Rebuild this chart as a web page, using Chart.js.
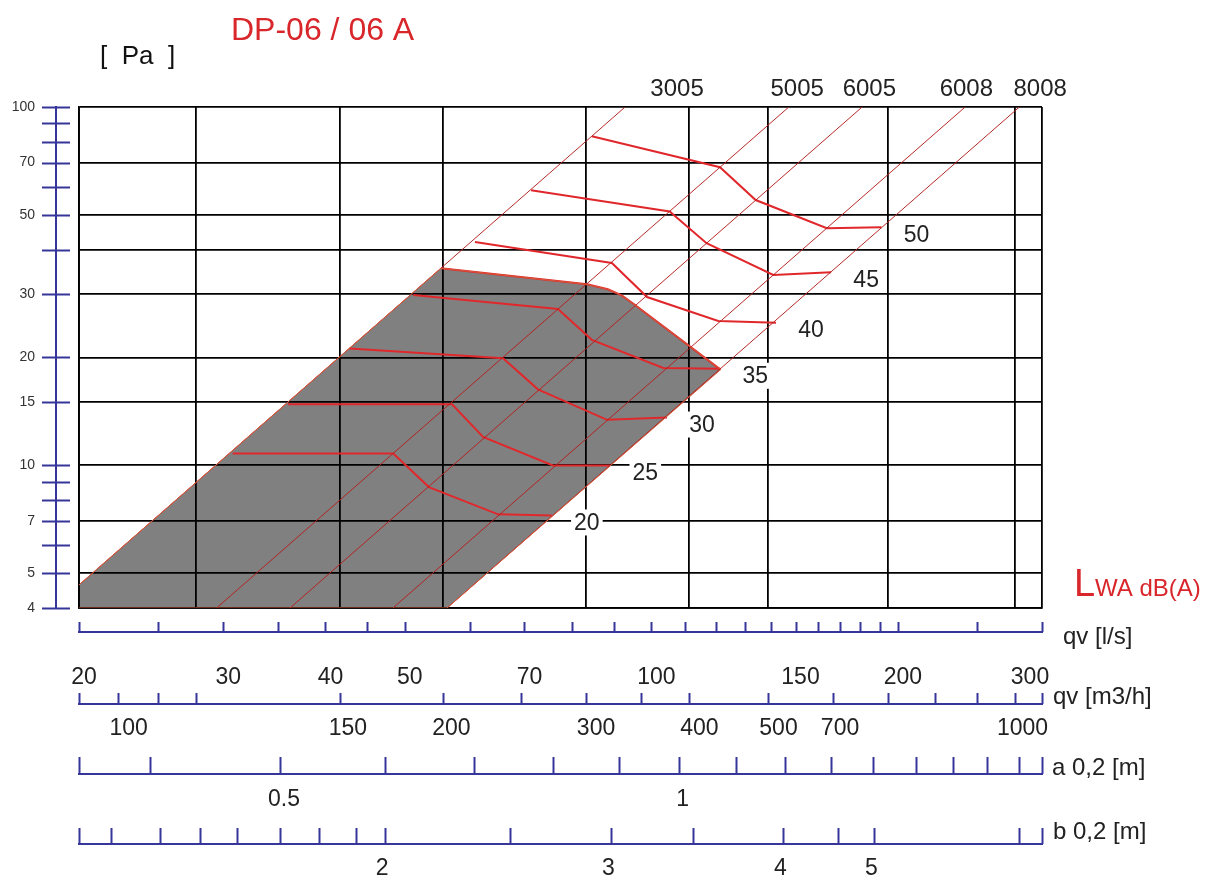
<!DOCTYPE html>
<html>
<head>
<meta charset="utf-8">
<title>DP-06 / 06 A</title>
<script src="https://cdn.jsdelivr.net/npm/chart.js@4.4.1/dist/chart.umd.min.js"></script>
<style>
  html, body { margin: 0; padding: 0; background: #fff; }
  #wrap { width: 1223px; height: 884px; }
</style>
</head>
<body>
<div id="wrap"><canvas id="chart" width="1223" height="884"></canvas></div>
<script>
// grid of the diagram: qv [m3/h] on x, pressure drop [Pa] on y
const gridQv = [20, 27.8, 41.7, 55.6, 83.3, 111.1, 138.9, 194.4, 277.8, 300];
const gridPa = [4, 5, 7, 10, 15, 20, 30, 40, 50, 70, 100];
const paLabels = [100, 70, 50, 30, 20, 15, 10, 7, 5, 4];
const paTicks = [100, 90, 80, 70, 60, 50, 40, 30, 20, 15, 10, 9, 8, 7, 6, 5, 4];

// scale bars under the chart (tick places read on the qv axis)
const lsTicks = [20, 25, 30, 35, 40, 45, 50, 60, 70, 80, 90, 100, 110, 120, 130, 140, 150, 160, 170, 180, 190, 200, 250, 300];
const m3hTicks = [20, 22.3, 25, 27.8, 41.7, 55.6, 69.4, 83.3, 97.2, 111.1, 138.9, 166.7, 194.4, 222.2, 250, 277.8, 300];
const m3hLabels = [20, 30, 40, 50, 70, 100, 150, 200, 300];
const aTopLabels = ['100', '150', '200', '300', '400', '500', '700', '1000'];
const aTopAt = [23, 42.6, 57, 85.6, 114.5, 143, 170, 284];
const aTicks = [20, 24.4, 35.2, 47.3, 60.8, 75.8, 91.3, 108, 126.9, 145.8, 165.6, 186.7, 210.4, 233.6, 257, 281.4, 300];
const aLabels = ['0.5', '1'];
const aLabelAt = [35.2, 108];
const bTicks = [20, 21.9, 25.1, 28.1, 31.2, 35.2, 39.3, 43.6, 47.3, 67.2, 89.4, 112.5, 145, 168.8, 187.3, 281.4, 300];
const bLabels = ['2', '3', '4', '5'];
const bLabelAt = [47.3, 89.4, 145, 187.3];

// damper lines (dp ~ qv^2), one per size
const diagNames = ['3005', '5005', '6005', '6008', '8008'];
const diagNameAt = [107.5, 150.7, 184.6, 242.5, 298.5];
const diagLow = [{x: 20, y: 4.64}, {x: 29.45, y: 4}, {x: 36.2, y: 4}, {x: 48.35, y: 4}, {x: 56.3, y: 4}];
const diagHigh = [{x: 92.9, y: 100}, {x: 147.2, y: 100}, {x: 180.9, y: 100}, {x: 241.7, y: 100}, {x: 281.5, y: 100}];

// sound power contours LWA dB(A)
const lwaLevels = [20, 25, 30, 35, 40, 45, 50];
const lwa20 = [{x: 30.8, y: 10.8}, {x: 48.4, y: 10.8}, {x: 53.5, y: 8.7}, {x: 65.0, y: 7.3}, {x: 75.6, y: 7.25}];
const lwa25 = [{x: 36.0, y: 14.8}, {x: 57.1, y: 14.8}, {x: 62.3, y: 12.0}, {x: 75.8, y: 10.0}, {x: 89.1, y: 10.0}];
const lwa30 = [{x: 42.8, y: 21.2}, {x: 65.9, y: 19.9}, {x: 72.7, y: 16.3}, {x: 88.3, y: 13.4}, {x: 104.5, y: 13.6}];
const lwa35 = [{x: 51.2, y: 29.9}, {x: 76.9, y: 27.3}, {x: 84.6, y: 22.4}, {x: 103.4, y: 18.7}, {x: 121.4, y: 18.6}];
const lwa40 = [{x: 60.9, y: 42.0}, {x: 89.5, y: 36.7}, {x: 98.8, y: 29.5}, {x: 120.7, y: 25.3}, {x: 142.0, y: 25.0}];
const lwa45 = [{x: 71.3, y: 58.6}, {x: 105.3, y: 51.1}, {x: 116.8, y: 41.7}, {x: 140.9, y: 34.0}, {x: 165.8, y: 34.6}];
const lwa50 = [{x: 84.6, y: 82.9}, {x: 121.3, y: 67.9}, {x: 134.1, y: 55.0}, {x: 163.8, y: 45.9}, {x: 191.0, y: 46.2}];
const contours = [lwa20, lwa25, lwa30, lwa35, lwa40, lwa45, lwa50];

// recommended working area (grey)
const workArea = [
  {x: 20, y: 4.64}, {x: 55.35, y: 35.5}, {x: 83.5, y: 32.0}, {x: 88.5, y: 31.0},
  {x: 92.0, y: 29.8}, {x: 95.0, y: 28.3}, {x: 121.5, y: 18.5}, {x: 56.3, y: 4}, {x: 20, y: 4}
];

const BLUE = '#35359a';
const RED = '#e0282c';
const FONT = "'Liberation Sans', Arial, sans-serif";

const datasets = [{
  label: 'area',
  data: workArea,
  borderColor: '#d85a3a',
  borderWidth: 1,
  backgroundColor: '#808080',
  fill: 'shape',
  pointRadius: 0
}];
diagNames.forEach((n, i) => {
  datasets.push({
    label: n,
    data: [diagLow[i], diagHigh[i]],
    borderColor: 'rgba(180,30,30,0.95)',
    borderWidth: 1,
    fill: false,
    pointRadius: 0
  });
});
// top edge of the grey area
datasets.push({
  label: 'edge',
  data: workArea.slice(1, 7),
  borderColor: RED,
  borderWidth: 2,
  fill: false,
  pointRadius: 0
});
contours.forEach((c, i) => {
  datasets.push({
    label: 'LWA ' + lwaLevels[i],
    data: c,
    borderColor: RED,
    borderWidth: 2,
    fill: false,
    pointRadius: 0
  });
});

function seg(ctx, x1, y1, x2, y2) {
  ctx.beginPath();
  ctx.moveTo(x1, y1);
  ctx.lineTo(x2, y2);
  ctx.stroke();
}

function scaleBar(ctx, x, ticks, lineY, len) {
  ctx.strokeStyle = BLUE;
  ctx.lineWidth = 2;
  seg(ctx, x.getPixelForValue(20) - 1, lineY, x.getPixelForValue(300) + 1, lineY);
  ticks.forEach(v => {
    const px = Math.round(x.getPixelForValue(v)) + 0.5;
    seg(ctx, px, lineY, px, lineY - len);
  });
}

const decor = {
  id: 'decor',
  afterDraw(chart) {
    const {ctx} = chart;
    const x = chart.scales.x, y = chart.scales.y;
    ctx.save();

    // left Pa scale
    ctx.strokeStyle = BLUE;
    ctx.lineWidth = 2;
    seg(ctx, 56, y.getPixelForValue(100) - 1, 56, y.getPixelForValue(4) + 1);
    paTicks.forEach(v => {
      const py = Math.round(y.getPixelForValue(v)) + 0.5;
      seg(ctx, 42, py, 70, py);
    });
    ctx.fillStyle = '#333';
    ctx.font = '14px ' + FONT;
    ctx.textAlign = 'right';
    ctx.textBaseline = 'middle';
    paLabels.forEach(v => ctx.fillText(String(v), 35, y.getPixelForValue(v)));

    // bottom bars
    scaleBar(ctx, x, lsTicks, 632, 10);
    scaleBar(ctx, x, m3hTicks, 704, 11);
    scaleBar(ctx, x, aTicks, 774, 17);
    scaleBar(ctx, x, bTicks, 844, 16);

    ctx.fillStyle = '#222';
    ctx.font = '23px ' + FONT;
    ctx.textAlign = 'center';
    m3hLabels.forEach((v, i) => {
      let px = x.getPixelForValue(v) + 5;
      if (i === m3hLabels.length - 1) px -= 17;
      ctx.fillText(String(v), px, 678);
    });
    aTopLabels.forEach((t, i) => ctx.fillText(t, x.getPixelForValue(aTopAt[i]), 729));
    aLabels.forEach((t, i) => ctx.fillText(t, x.getPixelForValue(aLabelAt[i]) + 4, 800));
    bLabels.forEach((t, i) => ctx.fillText(t, x.getPixelForValue(bLabelAt[i]) - 3, 869));

    ctx.font = '24px ' + FONT;
    ctx.textAlign = 'left';
    ctx.fillText('qv [l/s]', 1063, 637);
    ctx.fillText('qv [m3/h]', 1053, 697);
    ctx.fillText('a 0,2 [m]', 1052, 768);
    ctx.fillText('b 0,2 [m]', 1053, 832);

    // size names on top
    ctx.textAlign = 'center';
    diagNames.forEach((n, i) => ctx.fillText(n, x.getPixelForValue(diagNameAt[i]), 89));

    // contour values with white box
    ctx.font = '23px ' + FONT;
    contours.forEach((c, i) => {
      const end = c[c.length - 1];
      const cx = x.getPixelForValue(end.x) + 35;
      const cy = y.getPixelForValue(end.y) + 7;
      const t = String(lwaLevels[i]);
      const w = ctx.measureText(t).width + 6;
      ctx.fillStyle = '#fff';
      ctx.fillRect(cx - w / 2, cy - 13, w, 26);
      ctx.fillStyle = '#222';
      ctx.fillText(t, cx, cy + 1);
    });

    // titles
    ctx.fillStyle = '#d8262b';
    ctx.font = '32px ' + FONT;
    ctx.textAlign = 'left';
    ctx.fillText('DP-06 / 06 A', 231, 31);
    ctx.fillStyle = '#111';
    ctx.font = '26px ' + FONT;
    ctx.fillText('[  Pa  ]', 100, 57);

    ctx.fillStyle = '#d8262b';
    ctx.textBaseline = 'alphabetic';
    ctx.font = '38px ' + FONT;
    ctx.fillText('L', 1074, 596);
    ctx.font = '24px ' + FONT;
    ctx.fillText('WA dB(A)', 1095, 596);

    ctx.restore();
  }
};

new Chart(document.getElementById('chart'), {
  type: 'line',
  data: {datasets: datasets},
  options: {
    responsive: false,
    animation: false,
    events: [],
    layout: {padding: {left: 79, right: 181, top: 107, bottom: 276}},
    scales: {
      x: {
        type: 'logarithmic',
        min: 20,
        max: 300,
        afterBuildTicks: s => { s.ticks = gridQv.map(v => ({value: v})); },
        grid: {color: '#000', lineWidth: 1.8, drawTicks: false},
        border: {color: '#000', width: 1.8},
        ticks: {display: false}
      },
      y: {
        type: 'logarithmic',
        min: 4,
        max: 100,
        afterBuildTicks: s => { s.ticks = gridPa.map(v => ({value: v})); },
        grid: {color: '#000', lineWidth: 1.8, drawTicks: false},
        border: {color: '#000', width: 1.8},
        ticks: {display: false}
      }
    },
    elements: {line: {tension: 0}},
    plugins: {
      legend: {display: false},
      tooltip: {enabled: false},
      filler: {drawTime: 'beforeDraw', propagate: false}
    }
  },
  plugins: [decor]
});
</script>
</body>
</html>
